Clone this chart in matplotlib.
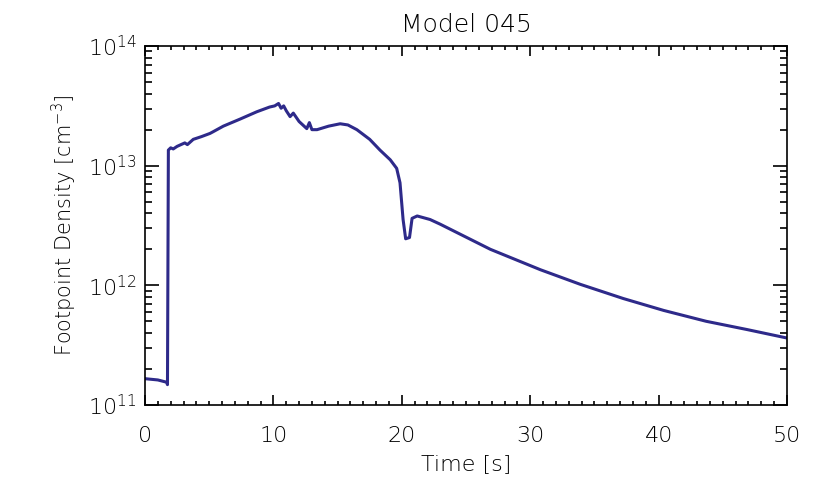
import matplotlib
matplotlib.use("Agg")
from matplotlib import pyplot as plt
from matplotlib.ticker import LogLocator, MultipleLocator, NullFormatter

# Footpoint density vs time
time_s = [0.0, 1.0, 1.69, 1.75, 1.82, 2.0, 2.2, 2.5, 2.8, 3.1, 3.3, 3.76, 4.4,
          5.06, 5.3, 6.1, 7.4, 8.7, 9.7, 10.1, 10.4, 10.6, 10.8, 11.0, 11.3,
          11.55, 12.0, 12.6, 12.8, 13.0, 13.4, 14.3, 15.2, 15.8, 16.5, 17.5,
          18.3, 19.1, 19.6, 19.86, 20.1, 20.3, 20.6, 20.8, 21.2, 22.2, 23.0,
          26.9, 30.8, 33.9, 37.25, 40.4, 43.7, 46.9, 50.0]
density = [1.66e11, 1.62e11, 1.55e11, 1.48e11, 1.35e13, 1.41e13, 1.38e13, 1.45e13,
           1.50e13, 1.55e13, 1.50e13, 1.66e13, 1.75e13, 1.86e13, 1.92e13, 2.14e13,
           2.45e13, 2.82e13, 3.09e13, 3.16e13, 3.31e13, 3.02e13, 3.16e13, 2.88e13,
           2.57e13, 2.75e13, 2.34e13, 2.04e13, 2.29e13, 2.0e13, 2.0e13, 2.14e13,
           2.24e13, 2.19e13, 2.0e13, 1.66e13, 1.35e13, 1.12e13, 9.5e12, 7.2e12,
           3.55e12, 2.45e12, 2.51e12, 3.63e12, 3.8e12, 3.55e12, 3.24e12, 2.0e12,
           1.35e12, 1.02e12, 7.76e11, 6.17e11, 5.01e11, 4.27e11, 3.63e11]

plt.rcParams['font.family'] = ['DejaVu Sans']
plt.rcParams['font.weight'] = 'light'
plt.rcParams['axes.labelweight'] = 'light'
plt.rcParams['axes.titleweight'] = 'light'
plt.rcParams['mathtext.default'] = 'regular'

fig = plt.figure(figsize=(8.3, 4.98), dpi=100)
ax = fig.add_axes([0.1747, 0.1867, 0.7735, 0.7209])

ax.plot(time_s, density, color="#2e2a8a", lw=2.2, solid_joinstyle="round")

ax.set_yscale("log")
ax.set_xlim(0, 50)
ax.set_ylim(1e11, 1e14)

ax.xaxis.set_major_locator(MultipleLocator(10))
ax.xaxis.set_minor_locator(MultipleLocator(1))
ax.yaxis.set_major_locator(LogLocator(base=10, numticks=10))
ax.yaxis.set_minor_locator(LogLocator(base=10, subs=range(2, 10), numticks=20))
ax.yaxis.set_minor_formatter(NullFormatter())

ax.tick_params(which="both", direction="in", top=True, right=True, labelsize=16,
               width=1.2, labelcolor="black")
ax.tick_params(axis="y", which="major", length=10, pad=6)
ax.tick_params(axis="y", which="minor", length=5)
ax.tick_params(axis="x", which="major", length=7, pad=15)
ax.tick_params(axis="x", which="minor", length=3)
for s in ax.spines.values():
    s.set_linewidth(1.2)

ax.set_xlabel("Time [s]", fontsize=16, labelpad=6)
ax.set_ylabel("Footpoint Density [cm$^{-3}$]", fontsize=15, labelpad=6)
ax.set_title("Model 045", fontsize=18, pad=10)

fig.savefig("out.png", dpi=100)
